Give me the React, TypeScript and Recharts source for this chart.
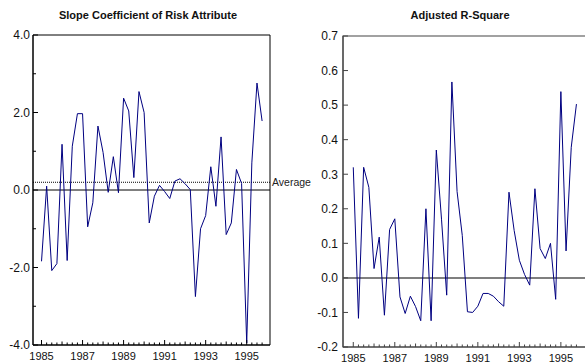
import {
  LineChart,
  Line,
  XAxis,
  YAxis,
  ReferenceLine,
  ReferenceArea,
} from "recharts";

// quarterly observations, 1985Q1 .. 1995Q4
const slopeCoef = [
  -1.84, 0.1, -2.08, -1.9, 1.18, -1.82, 1.13, 1.97, 1.97, -0.95, -0.33, 1.65,
  0.97, -0.06, 0.86, -0.07, 2.37, 2.04, 0.32, 2.54, 2.0, -0.85, -0.16, 0.12,
  -0.04, -0.22, 0.23, 0.29, 0.16, 0.01, -2.75, -1.0, -0.66, 0.6, -0.42, 1.37,
  -1.15, -0.85, 0.53, 0.17, -3.95, 0.7, 2.76, 1.78,
];

const adjR2 = [
  0.32, -0.117, 0.32, 0.262, 0.027, 0.118, -0.108, 0.14, 0.171, -0.055, -0.103,
  -0.053, -0.083, -0.124, 0.2, -0.124, 0.37, 0.17, -0.05, 0.567, 0.25, 0.123,
  -0.098, -0.1, -0.082, -0.045, -0.045, -0.053, -0.069, -0.082, 0.248, 0.137,
  0.051, 0.01, -0.021, 0.258, 0.085, 0.056, 0.1, -0.062, 0.539, 0.078, 0.378,
  0.503,
];

const firstYear = 1985;
const slopeAverage = 0.2;
const slopeTicks = [-4, -3, -2, -1, 0, 1, 2, 3, 4];
const r2Ticks = [-0.2, -0.1, 0, 0.1, 0.2, 0.3, 0.4, 0.5, 0.6, 0.7];

const quarterTicks = slopeCoef.map((_, i) => i);
const slopeData = slopeCoef.map((v, i) => ({ q: i, v }));
const r2Data = adjR2.map((v, i) => ({ q: i, v }));

const FONT = "'Liberation Sans', Arial, sans-serif";
const NAVY = "#000080";

function QuarterTick(props: any) {
  const { x, y, payload, stroke } = props;
  const i = payload.value as number;
  const h = i % 8 === 0 ? 5 : i % 4 === 0 ? 3.5 : 2.5;
  return (
    <g>
      <line x1={x} x2={x} y1={y} y2={y - h} stroke={stroke} strokeWidth={1} />
      {i % 8 === 0 && (
        <text x={x} y={y + 15} textAnchor="middle" fontSize={11} fill="#111">
          {firstYear + i / 4}
        </text>
      )}
    </g>
  );
}

function SlopeTick(props: any) {
  const { x, y, payload } = props;
  const v = payload.value as number;
  const major = v % 2 === 0;
  return (
    <g>
      <line x1={x} x2={x + (major ? 5 : 3)} y1={y} y2={y} stroke="#000" />
      {major && (
        <text x={x - 3} y={y} dy="0.36em" textAnchor="end" fontSize={12} fill="#111">
          {v.toFixed(1)}
        </text>
      )}
    </g>
  );
}

function R2Tick(props: any) {
  const { x, y, payload } = props;
  const v = payload.value as number;
  return (
    <g>
      <line x1={x} x2={x + 5} y1={y} y2={y} stroke="#444" />
      <text x={x - 5} y={y} dy="0.36em" textAnchor="end" fontSize={12} fill="#111">
        {v.toFixed(1)}
      </text>
    </g>
  );
}

const titleStyle: React.CSSProperties = {
  position: "absolute",
  top: 8,
  fontSize: 11,
  lineHeight: "14px",
  fontWeight: "bold",
  textAlign: "center",
  color: "#111",
};

export default function App() {
  const slopeDomain: [number, number] = [-1.66, 44.54];
  const r2Domain: [number, number] = [-1.98, 47.54];

  return (
    <div
      style={{
        position: "absolute",
        left: 0,
        top: 0,
        width: 585,
        height: 364,
        overflow: "hidden",
        background: "#fff",
        fontFamily: FONT,
      }}
    >
      {/* ===== LEFT: slope coefficient ===== */}
      <div style={{ ...titleStyle, left: 0, width: 296 }}>
        Slope Coefficient of Risk Attribute
      </div>
      <div style={{ position: "absolute", left: 0, top: 0 }}>
        <LineChart
          width={320}
          height={364}
          data={slopeData}
          margin={{ top: 35, right: 50, bottom: 0, left: 0 }}
        >
          <XAxis
            dataKey="q"
            type="number"
            domain={slopeDomain}
            ticks={quarterTicks}
            interval={0}
            height={19}
            tickSize={0}
            tickMargin={0}
            tickLine={false}
            axisLine={{ stroke: "#000" }}
            tick={(p: any) => <QuarterTick {...p} stroke="#000" />}
          />
          <YAxis
            type="number"
            domain={[-4, 4]}
            ticks={slopeTicks}
            interval={0}
            width={33}
            tickSize={0}
            tickMargin={0}
            tickLine={false}
            axisLine={{ stroke: "#000" }}
            tick={(p: any) => <SlopeTick {...p} />}
          />
          <ReferenceArea
            x1={slopeDomain[0]}
            x2={slopeDomain[1]}
            y1={-4}
            y2={4}
            fill="none"
            stroke="#000"
            strokeWidth={1}
          />
          <ReferenceLine y={0} stroke="#000" strokeWidth={1} />
          <ReferenceLine
            y={slopeAverage}
            stroke="#000"
            strokeDasharray="1 1"
            label={{ value: "Average", position: "right", offset: 2, fontSize: 10.5, fill: "#222" }}
          />
          <Line
            type="linear"
            dataKey="v"
            stroke={NAVY}
            strokeWidth={1}
            dot={false}
            isAnimationActive={false}
          />
        </LineChart>
      </div>

      {/* ===== RIGHT: adjusted R-square ===== */}
      <div style={{ ...titleStyle, left: 360, width: 200 }}>Adjusted R-Square</div>
      <div style={{ position: "absolute", left: 290, top: 0 }}>
        <LineChart
          width={310}
          height={364}
          data={r2Data}
          margin={{ top: 36, right: 0, bottom: 0, left: 0 }}
        >
          <XAxis
            dataKey="q"
            type="number"
            domain={r2Domain}
            ticks={quarterTicks}
            interval={0}
            height={17}
            tickSize={0}
            tickMargin={0}
            tickLine={false}
            axisLine={{ stroke: "#444" }}
            tick={(p: any) => <QuarterTick {...p} stroke="#444" />}
          />
          <YAxis
            type="number"
            domain={[-0.2, 0.7]}
            ticks={r2Ticks}
            interval={0}
            width={53}
            tickSize={0}
            tickMargin={0}
            tickLine={false}
            axisLine={{ stroke: "#444" }}
            tick={(p: any) => <R2Tick {...p} />}
          />
          <ReferenceArea
            x1={r2Domain[0]}
            x2={r2Domain[1]}
            y1={-0.2}
            y2={0.7}
            fill="none"
            stroke="#444"
            strokeWidth={1.2}
          />
          <ReferenceLine y={0} stroke="#555" strokeWidth={1.5} />
          <Line
            type="linear"
            dataKey="v"
            stroke={NAVY}
            strokeWidth={1}
            dot={false}
            isAnimationActive={false}
          />
        </LineChart>
      </div>
    </div>
  );
}
